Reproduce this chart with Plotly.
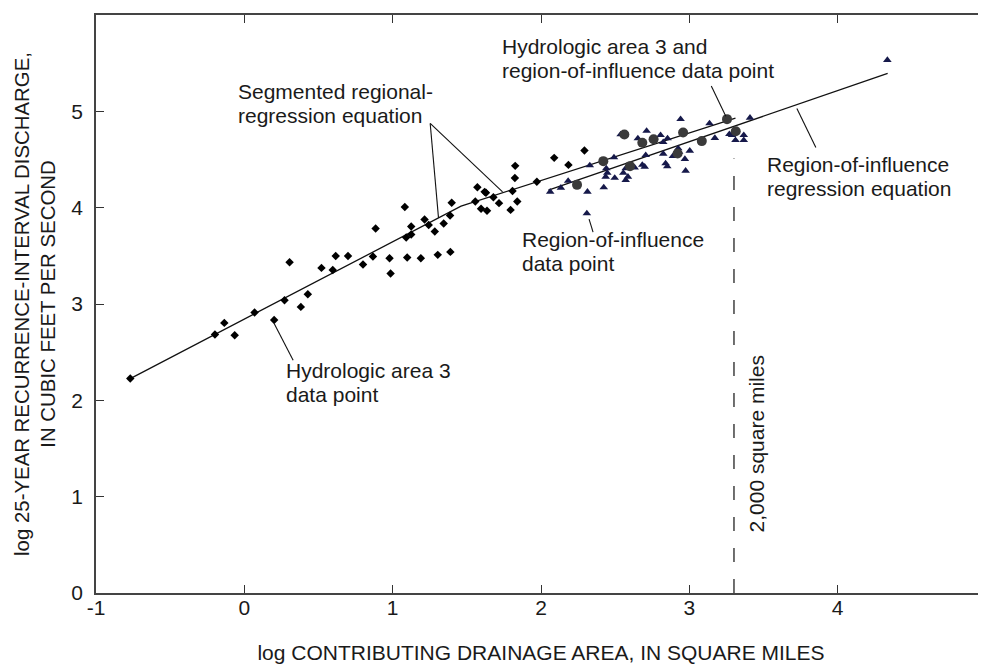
import plotly.graph_objects as go

FONT = "Liberation Sans, Arial, Helvetica, sans-serif"

# Hydrologic area 3 data points (log area, log Q25)
ha3_x = [-0.769, -0.198, -0.135, -0.065, 0.069, 0.201, 0.271, 0.381, 0.428, 0.305,
         0.520, 0.596, 0.616, 0.699, 0.800, 0.867, 0.885, 0.979, 0.986, 1.082,
         1.091, 1.125, 1.125, 1.098, 1.190, 1.215, 1.243, 1.284, 1.304, 1.344,
         1.387, 1.398, 1.389, 1.557, 1.571, 1.596, 1.620, 1.629, 1.636, 1.679,
         1.717, 1.795, 1.808, 1.824, 1.826, 1.840, 1.972, 2.089, 2.185, 2.293]
ha3_y = [2.226, 2.683, 2.804, 2.676, 2.912, 2.835, 3.039, 2.970, 3.102, 3.434,
         3.375, 3.354, 3.499, 3.499, 3.410, 3.493, 3.784, 3.476, 3.317, 4.008,
         3.691, 3.722, 3.805, 3.483, 3.476, 3.877, 3.821, 3.753, 3.510, 3.836,
         3.919, 4.050, 3.541, 4.064, 4.213, 3.988, 4.164, 4.154, 3.967, 4.109,
         4.047, 3.977, 4.174, 4.309, 4.434, 4.064, 4.268, 4.517, 4.444, 4.594]

# Region-of-influence data points
roi_x = [2.062, 2.134, 2.183, 2.313, 2.309, 2.329, 2.423, 2.440, 2.447, 2.436,
         2.492, 2.497, 2.537, 2.555, 2.571, 2.571, 2.586, 2.631, 2.653, 2.683,
         2.699, 2.706, 2.712, 2.806, 2.824, 2.824, 2.840, 2.851, 2.853, 2.889,
         2.925, 2.931, 2.941, 2.970, 2.975, 3.003, 3.136, 3.172, 3.270, 3.288,
         3.311, 3.367, 3.367, 3.409, 4.335]
roi_y = [4.164, 4.206, 4.278, 4.164, 3.940, 4.438, 4.210, 4.407, 4.361, 4.320,
         4.521, 4.309, 4.760, 4.361, 4.407, 4.286, 4.320, 4.417, 4.719, 4.444,
         4.424, 4.545, 4.797, 4.753, 4.680, 4.559, 4.459, 4.428, 4.719, 4.535,
         4.615, 4.579, 4.919, 4.504, 4.382, 4.590, 4.874, 4.722, 4.763, 4.753,
         4.701, 4.753, 4.701, 4.933, 5.532]

# Hydrologic area 3 and region-of-influence data points
both_x = [2.243, 2.420, 2.562, 2.600, 2.683, 2.759, 2.921, 2.958, 3.084, 3.254, 3.313]
both_y = [4.237, 4.483, 4.760, 4.431, 4.673, 4.711, 4.563, 4.781, 4.691, 4.919, 4.794]

# Segmented regional-regression equation
seg_x = [-0.769, 1.461, 3.311]
seg_y = [2.226, 4.016, 4.930]

# Region-of-influence regression equation
roireg_x = [2.050, 4.337]
roireg_y = [4.182, 5.394]

# 2,000 square miles reference line
limit_x = [3.301, 3.301]
limit_y = [0.0, 4.51]

x_ticks = [-1, 0, 1, 2, 3, 4, 5]
y_ticks = [0, 1, 2, 3, 4, 5, 6]

fig = go.Figure()

line_style = dict(color="#111111", width=1.3)
fig.add_trace(go.Scatter(x=seg_x, y=seg_y, mode="lines", line=line_style,
                         hoverinfo="skip", showlegend=False))
fig.add_trace(go.Scatter(x=roireg_x, y=roireg_y, mode="lines", line=line_style,
                         hoverinfo="skip", showlegend=False))
fig.add_trace(go.Scatter(x=limit_x, y=limit_y, mode="lines",
                         line=dict(color="#111111", width=1.2, dash="14px,17px"),
                         hoverinfo="skip", showlegend=False))

fig.add_trace(go.Scatter(x=ha3_x, y=ha3_y, mode="markers", name="Hydrologic area 3",
                         marker=dict(symbol="diamond", size=6.5, color="#000000"),
                         showlegend=False))
fig.add_trace(go.Scatter(x=roi_x, y=roi_y, mode="markers", name="Region of influence",
                         marker=dict(symbol="triangle-up", size=7.5, color="#16194a"),
                         showlegend=False))
fig.add_trace(go.Scatter(x=both_x, y=both_y, mode="markers", name="Both",
                         marker=dict(symbol="circle", size=10, color="#3a3a3a"),
                         showlegend=False))

# leader lines (data coordinates)
leaders = [
    (1.253, 4.874, 1.309, 3.894),
    (1.253, 4.874, 1.741, 4.164),
    (0.201, 2.797, 0.329, 2.416),
    (2.324, 3.881, 2.351, 3.746),
    (3.725, 5.030, 3.853, 4.625),
    (3.148, 5.262, 3.246, 4.950),
]
for x0, y0, x1, y1 in leaders:
    fig.add_shape(type="line", xref="x", yref="y", x0=x0, y0=y0, x1=x1, y1=y1,
                  line=dict(color="#111111", width=1.1))

labels = [
    ("Hydrologic area 3 and", 1.725, 5.677),
    ("region-of-influence data point", 1.725, 5.427),
    ("Segmented regional-", -0.057, 5.205),
    ("regression equation", -0.057, 4.955),
    ("Hydrologic area 3", 0.266, 2.313),
    ("data point", 0.266, 2.064),
    ("Region-of-influence", 1.860, 3.673),
    ("data point", 1.860, 3.424),
    ("Region-of-influence", 3.509, 4.452),
    ("regression equation", 3.509, 4.203),
]
for txt, x, y in labels:
    fig.add_annotation(text=txt, x=x, y=y, xref="x", yref="y", showarrow=False,
                       xanchor="left", yanchor="middle", align="left",
                       font=dict(family=FONT, size=21, color="#1a1a1a"))

fig.add_annotation(text="2,000 square miles", x=3.451, y=1.544, xref="x", yref="y",
                   showarrow=False, textangle=-90, xanchor="center", yanchor="middle",
                   font=dict(family=FONT, size=21, color="#1a1a1a"))

axis_common = dict(showline=True, linecolor="#444444", linewidth=1.5, mirror="ticks",
                   ticks="inside", ticklen=8, tickwidth=1.2, tickcolor="#333333",
                   showgrid=False, zeroline=False, automargin=False,
                   tickfont=dict(family=FONT, size=21, color="#1a1a1a"))

fig.update_xaxes(range=[-1, 5], tickvals=x_ticks, ticktext=[str(v) for v in x_ticks],
                 ticklabelstandoff=-5,
                 title=dict(text="log CONTRIBUTING DRAINAGE AREA, IN SQUARE MILES",
                            font=dict(family=FONT, size=21, color="#1a1a1a"), standoff=27),
                 **axis_common)
fig.update_yaxes(range=[0, 6], tickvals=y_ticks, ticktext=[str(v) for v in y_ticks],
                 ticklabelstandoff=7,
                 title=dict(text="log 25-YEAR RECURRENCE-INTERVAL DISCHARGE,<br>IN CUBIC FEET PER SECOND",
                            font=dict(family=FONT, size=20.4, color="#1a1a1a"), standoff=10),
                 **axis_common)

# The page body adds an 8 px offset, so margins are shifted to place the plot area
# at the reference position within the 986x668 window.
fig.update_layout(width=986, height=668, margin=dict(l=88, r=8, t=7, b=83),
                  plot_bgcolor="white", paper_bgcolor="white",
                  font=dict(family=FONT, size=21, color="#1a1a1a"))

fig.write_html("out.html")
